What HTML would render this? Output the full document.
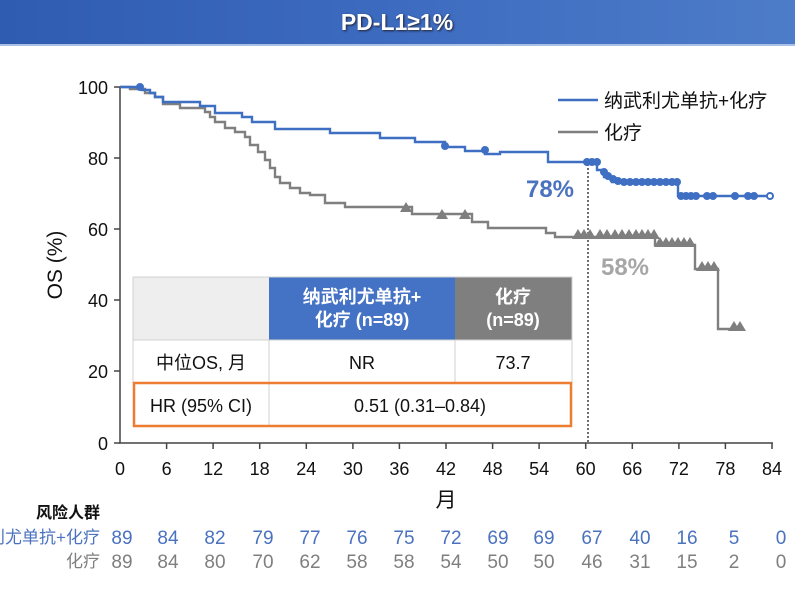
<!DOCTYPE html>
<html><head><meta charset="utf-8"><style>
body{margin:0;width:795px;height:596px;overflow:hidden;background:#fff;font-family:"Liberation Sans","Noto Sans CJK SC",sans-serif;}
</style></head><body>
<svg width="795" height="596" xmlns="http://www.w3.org/2000/svg" font-family="Liberation Sans, Noto Sans CJK SC, sans-serif">
<defs><linearGradient id="g" x1="0" x2="1"><stop offset="0" stop-color="#2f5cb0"/><stop offset="0.5" stop-color="#3d6bc0"/><stop offset="1" stop-color="#4d7cc8"/></linearGradient></defs>
<rect x="0" y="0" width="795" height="45" fill="url(#g)"/>
<rect x="0" y="44" width="795" height="2" fill="#a9c0e6"/>
<text x="397" y="30" font-size="23" font-weight="bold" fill="#fff" text-anchor="middle" style="text-shadow:1px 1px 2px #223">PD-L1≥1%</text>
<g stroke="#444" stroke-width="1.5" fill="none">
<line x1="120" y1="87" x2="120" y2="443"/><line x1="119" y1="443" x2="773" y2="443"/>
<line x1="114" y1="87" x2="120" y2="87"/><line x1="114" y1="158" x2="120" y2="158"/><line x1="114" y1="229" x2="120" y2="229"/><line x1="114" y1="300" x2="120" y2="300"/><line x1="114" y1="371" x2="120" y2="371"/><line x1="114" y1="443" x2="120" y2="443"/>
</g>
<g stroke="#444" stroke-width="1.5">
<line x1="166.6" y1="443" x2="166.6" y2="449"/><line x1="213.1" y1="443" x2="213.1" y2="449"/><line x1="259.7" y1="443" x2="259.7" y2="449"/><line x1="306.3" y1="443" x2="306.3" y2="449"/><line x1="352.9" y1="443" x2="352.9" y2="449"/><line x1="399.4" y1="443" x2="399.4" y2="449"/><line x1="446" y1="443" x2="446" y2="449"/><line x1="492.6" y1="443" x2="492.6" y2="449"/><line x1="539.1" y1="443" x2="539.1" y2="449"/><line x1="585.7" y1="443" x2="585.7" y2="449"/><line x1="632.3" y1="443" x2="632.3" y2="449"/><line x1="678.9" y1="443" x2="678.9" y2="449"/><line x1="725.4" y1="443" x2="725.4" y2="449"/><line x1="772" y1="443" x2="772" y2="449"/>
</g>
<g font-size="18" fill="#111" text-anchor="end">
<text x="108" y="94">100</text><text x="108" y="165">80</text><text x="108" y="236">60</text><text x="108" y="307">40</text><text x="108" y="378">20</text><text x="108" y="450">0</text>
</g>
<g font-size="18" fill="#111" text-anchor="middle">
<text x="120" y="475">0</text><text x="166.6" y="475">6</text><text x="213.1" y="475">12</text><text x="259.7" y="475">18</text><text x="306.3" y="475">24</text><text x="352.9" y="475">30</text><text x="399.4" y="475">36</text><text x="446" y="475">42</text><text x="492.6" y="475">48</text><text x="539.1" y="475">54</text><text x="585.7" y="475">60</text><text x="632.3" y="475">66</text><text x="678.9" y="475">72</text><text x="725.4" y="475">78</text><text x="772" y="475">84</text>
</g>
<text x="446" y="507" font-size="21" text-anchor="middle" fill="#111">月</text>
<text transform="translate(62,265) rotate(-90)" font-size="21" text-anchor="middle" fill="#111">OS (%)</text>
<line x1="588" y1="160" x2="588" y2="443" stroke="#222" stroke-width="1.3" stroke-dasharray="2,2"/>
<polyline fill="none" stroke="#7f7f7f" stroke-width="2.4" points="120,87 130,87 130,89 145,89 145,93 155,93 155,97 163,97 163,104 180,104 180,108 205,108 205,112 210,112 210,117 215,117 215,122 225,122 225,128 235,128 235,132 245,132 245,137 250,137 250,145 258,145 258,152 265,152 265,160 270,160 270,168 275,168 275,177 280,177 280,183 290,183 290,188 300,188 300,193 310,193 310,195 325,195 325,203 345,203 345,207 412,207 412,214 472,214 472,222 488,222 488,228 546,228 546,233 555,233 555,237 655,237 655,245 695,245 695,269 718,269 718,329 742,329"/>
<g fill="#7f7f7f">
<path d="M406,202 l-6,10 h12z M442,209 l-6,10 h12z M465,209 l-6,10 h12z M578,229 l-6,10 h12z M584,229 l-6,10 h12z M590,229 l-6,10 h12z M600,229 l-6,10 h12z M607,229 l-6,10 h12z M615,229 l-6,10 h12z M622,229 l-6,10 h12z M629,229 l-6,10 h12z M636,229 l-6,10 h12z M642,229 l-6,10 h12z M648,229 l-6,10 h12z M654,229 l-6,10 h12z M660,237 l-6,10 h12z M666,237 l-6,10 h12z M672,237 l-6,10 h12z M678,237 l-6,10 h12z M684,237 l-6,10 h12z M690,237 l-6,10 h12z M702,261 l-6,10 h12z M708,261 l-6,10 h12z M714,261 l-6,10 h12z M734,321 l-6,10 h12z M740,321 l-6,10 h12z"/>
</g>
<polyline fill="none" stroke="#3f6fc2" stroke-width="2.4" points="120,87 142,87 142,90 150,90 150,93 155,93 155,97 163,97 163,102 200,102 200,106 215,106 215,113 242,113 242,117 252,117 252,122 275,122 275,129 330,129 330,133 380,133 380,138 415,138 415,142 445,142 445,147 465,147 465,151 485,151 485,154 500,154 500,152 548,152 548,162 597,162 597,170 604,170 604,177 612,177 612,182 678,182 678,196 770,196"/>
<g fill="#3f6fc2">
<circle cx="140" cy="87" r="4"/><circle cx="445" cy="146" r="4"/><circle cx="485" cy="150" r="4"/><circle cx="587" cy="162" r="4"/><circle cx="592" cy="162" r="4"/><circle cx="597" cy="162" r="4"/><circle cx="604" cy="172" r="4"/><circle cx="608" cy="176" r="4"/><circle cx="613" cy="179" r="4"/><circle cx="618" cy="181" r="4"/><circle cx="624" cy="182" r="4"/><circle cx="630" cy="182" r="4"/><circle cx="636" cy="182" r="4"/><circle cx="642" cy="182" r="4"/><circle cx="648" cy="182" r="4"/><circle cx="654" cy="182" r="4"/><circle cx="660" cy="182" r="4"/><circle cx="666" cy="182" r="4"/><circle cx="672" cy="182" r="4"/><circle cx="677" cy="182" r="4"/><circle cx="681" cy="196" r="4"/><circle cx="686" cy="196" r="4"/><circle cx="691" cy="196" r="4"/><circle cx="696" cy="196" r="4"/><circle cx="707" cy="196" r="4"/><circle cx="713" cy="196" r="4"/><circle cx="735" cy="196" r="4"/><circle cx="748" cy="196" r="4"/><circle cx="754" cy="196" r="4"/><circle cx="770" cy="196" r="3" fill="#fff" stroke="#3f6fc2" stroke-width="2"/>
</g>
<text x="550" y="197" font-size="24" font-weight="bold" fill="#4a72bf" text-anchor="middle">78%</text>
<text x="625" y="275" font-size="24" font-weight="bold" fill="#a6a6a6" text-anchor="middle">58%</text>
<line x1="558" y1="100" x2="598" y2="100" stroke="#3f6fc2" stroke-width="2.4"/>
<text x="604" y="107" font-size="19" fill="#111">纳武利尤单抗+化疗</text>
<line x1="558" y1="132" x2="598" y2="132" stroke="#7f7f7f" stroke-width="2.4"/>
<text x="604" y="139" font-size="19" fill="#111">化疗</text>
<rect x="133" y="277" width="136" height="63" fill="#eeeeee"/>
<rect x="269" y="277" width="186" height="63" fill="#4472c4"/>
<rect x="455" y="277" width="117" height="63" fill="#7f7f7f"/>
<rect x="133" y="340" width="439" height="87" fill="#fff"/>
<g stroke="#d0d0d0" stroke-width="1" fill="none">
<rect x="133" y="277" width="439" height="106"/>
<line x1="269" y1="340" x2="269" y2="427"/><line x1="455" y1="340" x2="455" y2="383"/><line x1="133" y1="340" x2="572" y2="340"/>
</g>
<rect x="134" y="383" width="437" height="43" fill="none" stroke="#ed7d31" stroke-width="2.5"/>
<g font-size="18" font-weight="bold" fill="#fff" text-anchor="middle">
<text x="362" y="303">纳武利尤单抗+</text><text x="362" y="326">化疗 (n=89)</text>
<text x="513" y="303">化疗</text><text x="513" y="326">(n=89)</text>
</g>
<g font-size="18" fill="#111" text-anchor="middle">
<text x="201" y="369">中位OS, 月</text><text x="362" y="369">NR</text><text x="513" y="369">73.7</text>
<text x="201" y="412">HR (95% CI)</text><text x="420" y="412">0.51 (0.31–0.84)</text>
</g>
<text x="100" y="518" font-size="16" font-weight="bold" fill="#111" text-anchor="end">风险人群</text>
<text x="100" y="543" font-size="17" fill="#4a72bf" text-anchor="end">纳武利尤单抗+化疗</text>
<text x="100" y="567" font-size="17" fill="#7f7f7f" text-anchor="end">化疗</text>
<g font-size="19" fill="#4a72bf" text-anchor="middle">
<text x="122" y="544">89</text><text x="168" y="544">84</text><text x="215" y="544">82</text><text x="263" y="544">79</text><text x="310" y="544">77</text><text x="357" y="544">76</text><text x="404" y="544">75</text><text x="451" y="544">72</text><text x="498" y="544">69</text><text x="544" y="544">69</text><text x="592" y="544">67</text><text x="640" y="544">40</text><text x="687" y="544">16</text><text x="734" y="544">5</text><text x="781" y="544">0</text>
</g>
<g font-size="19" fill="#7f7f7f" text-anchor="middle">
<text x="122" y="568">89</text><text x="168" y="568">84</text><text x="215" y="568">80</text><text x="263" y="568">70</text><text x="310" y="568">62</text><text x="357" y="568">58</text><text x="404" y="568">58</text><text x="451" y="568">54</text><text x="498" y="568">50</text><text x="544" y="568">50</text><text x="592" y="568">46</text><text x="640" y="568">31</text><text x="687" y="568">15</text><text x="734" y="568">2</text><text x="781" y="568">0</text>
</g>
</svg>
</body></html>
